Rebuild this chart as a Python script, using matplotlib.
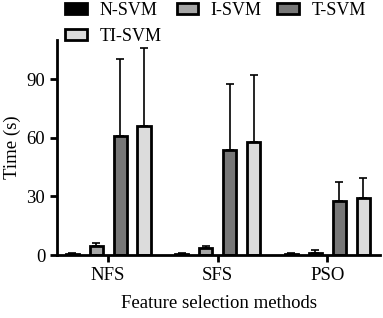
import numpy as np
import matplotlib.pyplot as plt

plt.rcParams['font.family'] = ['Liberation Serif', 'DejaVu Serif']

methods = ['NFS', 'SFS', 'PSO']
models = ['N-SVM', 'I-SVM', 'T-SVM', 'TI-SVM']
times = {
    'N-SVM': [0.5, 0.5, 0.5],
    'I-SVM': [4.5, 3.8, 1.2],
    'T-SVM': [61, 54, 27.5],
    'TI-SVM': [66, 58, 29],
}
errs = {
    'N-SVM': [0.3, 0.3, 0.3],
    'I-SVM': [1.5, 1.0, 1.3],
    'T-SVM': [39.5, 33.5, 10],
    'TI-SVM': [40, 34, 10.5],
}
colors = ['#000000', '#a6a6a6', '#777777', '#dcdcdc']
yticks = [0, 30, 60, 90]

fig = plt.figure(figsize=(3.83, 3.18), dpi=100)
ax = fig.add_axes([0.149, 0.198, 0.843, 0.676])

x = np.arange(len(methods))
step = 0.218
width = 0.12
bars = []
for i, m in enumerate(models):
    pos = x + (i - 1.5) * step
    b = ax.bar(pos, times[m], width, color=colors[i], edgecolor='black',
               linewidth=2, label=m, zorder=2)
    bars.append(b)
    ax.errorbar(pos, times[m], yerr=[np.zeros(3), errs[m]], fmt='none',
                ecolor='black', elinewidth=1.2, capsize=3, capthick=1.2, zorder=1)

ax.set_xlim(-0.466, 2.48)
ax.set_ylim(0, 110)
ax.set_yticks(yticks)
ax.set_xticks(x)
ax.set_xticklabels(methods)
for s in ['top', 'right']:
    ax.spines[s].set_visible(False)
for s in ['left', 'bottom']:
    ax.spines[s].set_linewidth(2)
ax.tick_params(width=2, length=5, labelsize=13.5, direction='out')
ax.set_ylabel('Time (s)', fontsize=13.5)
ax.set_xlabel('Feature selection methods', fontsize=13.5, labelpad=8)

# column-major fill: order so that row 1 = N, I, T and row 2 = TI
order = [0, 3, 1, 2]
fig.legend([bars[k] for k in order], [models[k] for k in order],
           loc='upper left', bbox_to_anchor=(0.16, 1.005), ncol=3, frameon=False,
           fontsize=13, handlelength=1.2, handleheight=0.6, handletextpad=0.7,
           columnspacing=0.85, labelspacing=0.5, borderpad=0.2, borderaxespad=0)

fig.savefig('out.png', dpi=100)
